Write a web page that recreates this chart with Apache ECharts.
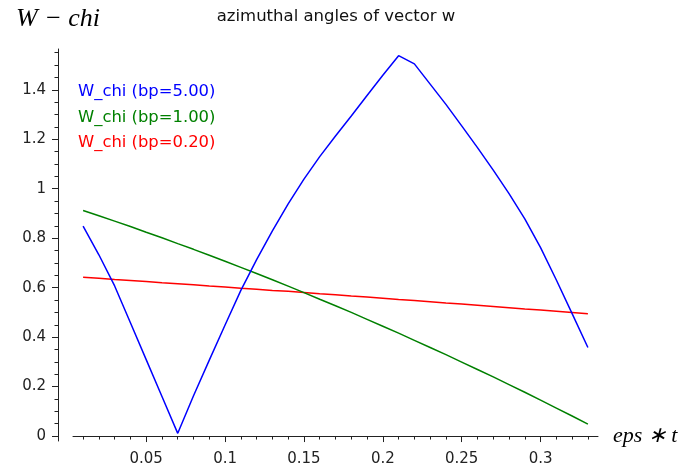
<!DOCTYPE html>
<html>
<head>
<meta charset="utf-8">
<script src="https://cdn.jsdelivr.net/npm/echarts@6/dist/echarts.min.js"></script>
<style>
  html, body { margin: 0; padding: 0; background: #fff; }
  #chart { width: 685px; height: 471px; }
</style>
</head>
<body>
<div id="chart"></div>
<script>
// x values (eps*t)
const epsT = [0.01, 0.02, 0.03, 0.04, 0.05, 0.06, 0.07, 0.08, 0.09, 0.10, 0.11,
  0.12, 0.13, 0.14, 0.15, 0.16, 0.17, 0.18, 0.19, 0.20, 0.21, 0.22,
  0.23, 0.24, 0.25, 0.26, 0.27, 0.28, 0.29, 0.30, 0.31, 0.32, 0.33];

// W_chi, bp = 5.00
const wchiBp5 = [0.849, 0.733, 0.607, 0.458, 0.309, 0.160, 0.011, 0.163, 0.307, 0.449, 0.589,
  0.713, 0.830, 0.939, 1.039, 1.130, 1.213, 1.294, 1.377, 1.459, 1.538, 1.505,
  1.423, 1.341, 1.254, 1.166, 1.075, 0.980, 0.878, 0.762, 0.631, 0.495, 0.358];
// W_chi, bp = 1.00
const wchiBp1 = [0.912, 0.891, 0.869, 0.847, 0.824, 0.802, 0.778, 0.755, 0.731, 0.707, 0.682,
  0.657, 0.632, 0.606, 0.580, 0.553, 0.527, 0.500, 0.472, 0.444, 0.416, 0.387,
  0.358, 0.329, 0.299, 0.269, 0.239, 0.208, 0.177, 0.145, 0.113, 0.081, 0.048];
// W_chi, bp = 0.20
const wchiBp02 = [0.642, 0.638, 0.633, 0.629, 0.625, 0.620, 0.616, 0.612, 0.607, 0.603, 0.598,
  0.594, 0.589, 0.585, 0.580, 0.575, 0.571, 0.566, 0.562, 0.557, 0.552, 0.548,
  0.543, 0.538, 0.534, 0.529, 0.524, 0.519, 0.514, 0.510, 0.505, 0.500, 0.495];

const seriesNames = ["W_chi (bp=5.00)", "W_chi (bp=1.00)", "W_chi (bp=0.20)"];
const seriesColors = ["#0000ff", "#008000", "#ff0000"];

// tick labels / tick positions
const xMajorTicks = [0.05, 0.1, 0.15, 0.2, 0.25, 0.3];
const xMinorTicks = [0.01, 0.02, 0.03, 0.04, 0.06, 0.07, 0.08, 0.09, 0.11, 0.12, 0.13, 0.14,
  0.16, 0.17, 0.18, 0.19, 0.21, 0.22, 0.23, 0.24, 0.26, 0.27, 0.28, 0.29, 0.31, 0.32, 0.33];
const yMajorTicks = [0, 0.2, 0.4, 0.6, 0.8, 1, 1.2, 1.4];
const yMinorTicks = [0.05, 0.1, 0.15, 0.25, 0.3, 0.35, 0.45, 0.5, 0.55, 0.65, 0.7, 0.75,
  0.85, 0.9, 0.95, 1.05, 1.1, 1.15, 1.25, 1.3, 1.35, 1.45, 1.5, 1.55];

const axisColor = "#222";
const labelFont = { fontFamily: "DejaVu Sans", fontSize: 15, color: "#222" };

const pairs = (ys) => epsT.map((x, i) => [x, ys[i]]);
const allData = [wchiBp5, wchiBp1, wchiBp02];

const chart = echarts.init(document.getElementById("chart"), null, { renderer: "canvas" });
chart.setOption({
  animation: false,
  backgroundColor: "#fff",
  title: {
    text: "azimuthal angles of vector w",
    left: 331, top: 3, textAlign: "center",
    textStyle: { fontFamily: "DejaVu Sans", fontSize: 16.5, fontWeight: "normal", color: "#111" },
  },
  legend: {
    orient: "vertical",
    left: 68, top: 78.5,
    icon: "none",
    itemWidth: 0, itemHeight: 16, itemGap: 9.8,
    selectedMode: false,
    data: seriesNames.map((n, i) => ({
      name: n,
      textStyle: { color: seriesColors[i], fontFamily: "DejaVu Sans", fontSize: 16.4 },
    })),
  },
  grid: { left: 73, right: 87, top: 49, bottom: 30, containLabel: false },
  xAxis: [
    {
      type: "value", min: 0.0036, max: 0.3364,
      name: "eps \u2217 t", nameLocation: "end", nameGap: 15,
      nameTextStyle: { fontFamily: "Liberation Serif", fontStyle: "italic", fontSize: 22, color: "#000", padding: [0, 0, 16, 0] },
      axisLine: { onZero: true, lineStyle: { color: axisColor, width: 1 } },
      axisTick: { customValues: xMajorTicks, length: 6, lineStyle: { color: axisColor } },
      axisLabel: { customValues: xMajorTicks, margin: 11, ...labelFont },
      splitLine: { show: false },
    },
    {
      type: "value", min: 0.0036, max: 0.3364, position: "bottom",
      axisLine: { show: false, onZero: true },
      axisTick: { customValues: xMinorTicks, length: 3.5, lineStyle: { color: axisColor } },
      axisLabel: { show: false },
      splitLine: { show: false },
    },
  ],
  yAxis: [
    {
      type: "value", min: -0.02, max: 1.565, offset: 15,
      name: "W \u2212 chi", nameLocation: "end", nameGap: 17,
      nameTextStyle: { fontFamily: "Liberation Serif", fontStyle: "italic", fontSize: 26, color: "#000", align: "center" },
      axisLine: { show: true, onZero: false, lineStyle: { color: axisColor, width: 1 } },
      axisTick: { show: true, customValues: yMajorTicks, length: 6, lineStyle: { color: axisColor } },
      axisLabel: { customValues: yMajorTicks, margin: 12, ...labelFont },
      splitLine: { show: false },
    },
    {
      type: "value", min: -0.02, max: 1.565, offset: 15, position: "left",
      axisLine: { show: false, onZero: false },
      axisTick: { show: true, customValues: yMinorTicks, length: 3.5, lineStyle: { color: axisColor } },
      axisLabel: { show: false },
      splitLine: { show: false },
    },
  ],
  series: allData.map((ys, i) => ({
    name: seriesNames[i],
    type: "line",
    data: pairs(ys),
    showSymbol: false,
    symbol: "none",
    color: seriesColors[i],
    lineStyle: { color: seriesColors[i], width: 1.5 },
    z: 3 - i,
  })),
});
</script>
</body>
</html>
